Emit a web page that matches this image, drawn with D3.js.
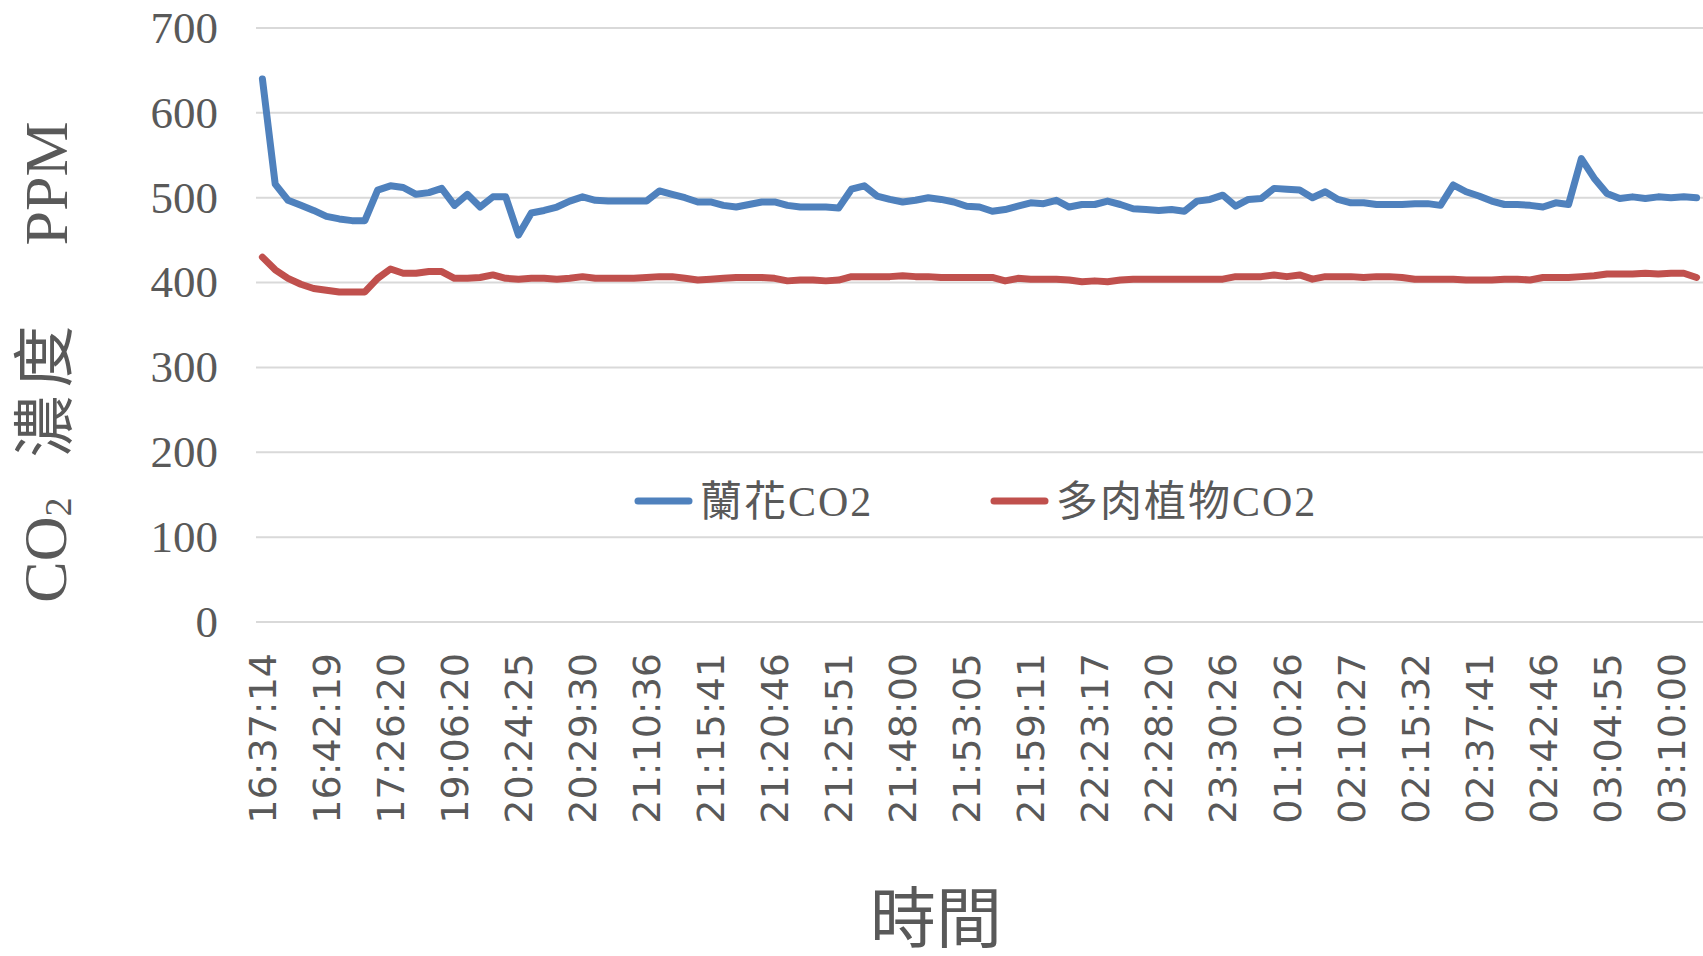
<!DOCTYPE html>
<html>
<head>
<meta charset="utf-8">
<script src="https://cdn.jsdelivr.net/npm/d3@7"></script>
<style>
  body { margin: 0; background: #fff; }
  svg { display: block; }
</style>
</head>
<body>
<div class="chart"></div>
<script>
/* tick labels shown on the category axis (every 5th reading) */
var tickLabels = ["16:37:14", "16:42:19", "17:26:20", "19:06:20", "20:24:25", "20:29:30",
  "21:10:36", "21:15:41", "21:20:46", "21:25:51", "21:48:00", "21:53:05", "21:59:11",
  "22:23:17", "22:28:20", "23:30:26", "01:10:26", "02:10:27", "02:15:32", "02:37:41",
  "02:42:46", "03:04:55", "03:10:00"];

var yTicks = [0, 100, 200, 300, 400, 500, 600, 700];

var seriesNames = ["蘭花CO2", "多肉植物CO2"];

/* 蘭花 CO2 readings */
var orchid = [640, 516, 497, 491, 485, 478, 475, 473, 473, 509,
  514, 512, 504, 506, 511, 491, 504, 489, 501, 501,
  456, 482, 485, 489, 496, 501, 497, 496, 496, 496,
  496, 508, 504, 500, 495, 495, 491, 489, 492, 495,
  495, 491, 489, 489, 489, 488, 510, 514, 502, 498,
  495, 497, 500, 498, 495, 490, 489, 484, 486, 490,
  494, 493, 497, 489, 492, 492, 496, 492, 487, 486,
  485, 486, 484, 496, 498, 503, 490, 498, 499, 511,
  510, 509, 500, 507, 498, 494, 494, 492, 492, 492,
  493, 493, 491, 515, 507, 502, 496, 492, 492, 491,
  489, 494, 492, 546, 523, 505, 499, 501, 499, 501,
  500, 501, 500];

/* 多肉植物 CO2 readings */
var succulent = [430, 415, 405, 398, 393, 391, 389, 389, 389, 405,
  416, 411, 411, 413, 413, 405, 405, 406, 409, 405,
  404, 405, 405, 404, 405, 407, 405, 405, 405, 405,
  406, 407, 407, 405, 403, 404, 405, 406, 406, 406,
  405, 402, 403, 403, 402, 403, 407, 407, 407, 407,
  408, 407, 407, 406, 406, 406, 406, 406, 402, 405,
  404, 404, 404, 403, 401, 402, 401, 403, 404, 404,
  404, 404, 404, 404, 404, 404, 407, 407, 407, 409,
  407, 409, 404, 407, 407, 407, 406, 407, 407, 406,
  404, 404, 404, 404, 403, 403, 403, 404, 404, 403,
  406, 406, 406, 407, 408, 410, 410, 410, 411, 410,
  411, 411, 406];

var width = 1703, height = 956;
var plot = { left: 256, right: 1703, top: 28, bottom: 622 };
var colors = ["#4f81bd", "#c0504d"];
var textColor = "#595959";
var serif = "'Liberation Serif', 'Noto Sans CJK TC', serif";

var svg = d3.select(".chart").append("svg")
  .attr("width", width)
  .attr("height", height);

var x = d3.scaleBand()
  .domain(d3.range(orchid.length))
  .range([plot.left, plot.right]);

var y = d3.scaleLinear()
  .domain([0, 700])
  .range([plot.bottom, plot.top]);

/* horizontal gridlines */
svg.append("g")
  .selectAll("line")
  .data(yTicks)
  .enter().append("line")
    .attr("x1", plot.left)
    .attr("x2", plot.right)
    .attr("y1", function(d) { return y(d); })
    .attr("y2", function(d) { return y(d); })
    .attr("stroke", "#d9d9d9")
    .attr("stroke-width", 2);

/* y axis, labels only */
var yAxis = svg.append("g")
  .attr("transform", "translate(" + (plot.left - 38) + ",0)")
  .call(d3.axisLeft(y).tickValues(yTicks).tickSize(0).tickPadding(0));
yAxis.select(".domain").remove();
yAxis.selectAll("text")
  .attr("fill", textColor)
  .style("font-family", serif)
  .style("font-size", "45px");

/* x axis, rotated time labels every 5th point */
var xAxis = svg.append("g")
  .attr("transform", "translate(0," + plot.bottom + ")")
  .call(d3.axisBottom(x)
    .tickValues(d3.range(0, orchid.length, 5))
    .tickFormat(function(d) { return tickLabels[d / 5]; })
    .tickSize(0));
xAxis.select(".domain").remove();
xAxis.selectAll("text")
  .attr("fill", textColor)
  .style("font-family", "'DejaVu Sans', sans-serif")
  .style("font-size", "38px")
  .attr("text-anchor", "end")
  .attr("transform", "rotate(-90)")
  .attr("x", -31)
  .attr("y", 0)
  .attr("dy", "0.36em");

/* the two lines */
var line = d3.line()
  .x(function(d, i) { return x(i) + x.bandwidth() / 2; })
  .y(function(d) { return y(d); });

[orchid, succulent].forEach(function(s, k) {
  svg.append("path")
    .datum(s)
    .attr("fill", "none")
    .attr("stroke", colors[k])
    .attr("stroke-width", 7)
    .attr("stroke-linejoin", "round")
    .attr("stroke-linecap", "round")
    .attr("d", line);
});

/* legend */
var legendX = [638, 994];
var legend = svg.append("g").selectAll("g")
  .data(seriesNames)
  .enter().append("g")
    .attr("transform", function(d, i) { return "translate(" + legendX[i] + ",501)"; });
legend.append("line")
  .attr("x1", 0).attr("x2", 51)
  .attr("stroke", function(d, i) { return colors[i]; })
  .attr("stroke-width", 7)
  .attr("stroke-linecap", "round");
legend.append("text")
  .attr("x", 62)
  .attr("dy", "0.36em")
  .attr("fill", textColor)
  .style("font-family", serif)
  .style("font-size", "42px")
  .style("letter-spacing", "2px")
  .text(function(d) { return d; });

/* axis titles */
svg.append("text")
  .attr("x", 936)
  .attr("y", 918)
  .attr("text-anchor", "middle")
  .attr("dy", "0.36em")
  .attr("fill", textColor)
  .style("font-family", serif)
  .style("font-size", "66px")
  .text("時間");

var yTitle = svg.append("text")
  .attr("transform", "translate(44,362) rotate(-90)")
  .attr("text-anchor", "middle")
  .attr("dy", "0.36em")
  .attr("fill", textColor)
  .style("font-family", serif)
  .style("font-size", "62px");
yTitle.append("tspan").text("CO");
yTitle.append("tspan").attr("dy", "0.12em").style("font-size", "38px").text("2");
yTitle.append("tspan").attr("dy", "-0.07em").attr("dx", 40).style("letter-spacing", "8px").text("濃度");
yTitle.append("tspan").attr("dx", 72).text("PPM");
</script>
</body>
</html>
